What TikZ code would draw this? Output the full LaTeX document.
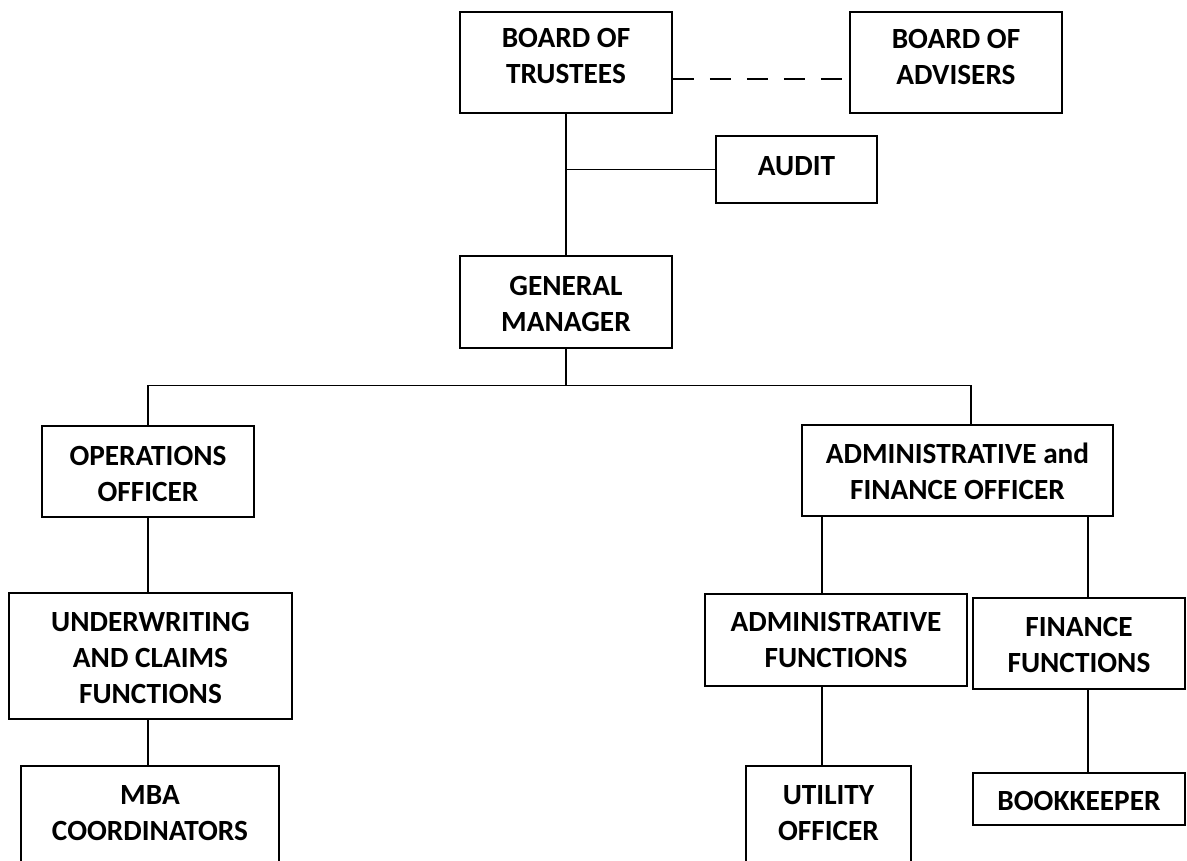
\documentclass[tikz,border=0pt]{standalone}
\usepackage{fontspec}
\setmainfont{Carlito}
\begin{document}
\begin{tikzpicture}[x=1pt,y=-1pt,
  box/.style={draw=black, line width=1.6pt, inner sep=0pt, fill=white},
  lbl/.style={align=center, inner sep=0pt, font=\fontsize{29.3}{36}\selectfont\bfseries},
  conn/.style={draw=black, line width=1.3pt},
  mainconn/.style={draw=black, line width=2.3pt},
  dashconn/.style={draw=black, line width=1.3pt, dash pattern=on 21pt off 16pt}
]
\useasboundingbox (0,0) rectangle (1187,861);
\clip (0,0) rectangle (1187,861);
\fill[white] (0,0) rectangle (1187,861);

\node[box, minimum width=212pt, minimum height=101pt,
  label={[lbl, yshift=6pt]center:BOARD OF\\TRUSTEES}] (bot) at (566,62.5) {};
\node[box, minimum width=212pt, minimum height=101pt,
  label={[lbl, yshift=6pt]center:BOARD OF\\ADVISERS}] (boa) at (956,62.5) {};
\node[box, minimum width=161pt, minimum height=67pt,
  label={[lbl, yshift=3pt]center:AUDIT}] (aud) at (796.5,169.5) {};
\node[box, minimum width=212pt, minimum height=92pt,
  label={[lbl, yshift=-1.5pt]center:GENERAL\\MANAGER}] (gm) at (566,302) {};
\node[box, minimum width=212pt, minimum height=91pt,
  label={[lbl, yshift=-2pt]center:OPERATIONS\\OFFICER}] (ops) at (148,471.5) {};
\node[box, minimum width=311pt, minimum height=91pt,
  label={[lbl, yshift=-0.5pt]center:ADMINISTRATIVE and\\FINANCE OFFICER}] (afo) at (957.5,470.5) {};
\node[box, minimum width=283pt, minimum height=126pt,
  label={[lbl, yshift=-2pt]center:UNDERWRITING\\AND CLAIMS\\FUNCTIONS}] (uw) at (150.5,656) {};
\node[box, minimum width=262pt, minimum height=92pt,
  label={[lbl, yshift=0pt]center:ADMINISTRATIVE\\FUNCTIONS}] (adf) at (836,640) {};
\node[box, minimum width=212pt, minimum height=91pt,
  label={[lbl, yshift=-1pt]center:FINANCE\\FUNCTIONS}] (fin) at (1079,643.5) {};
\node[box, minimum width=258pt, minimum height=134pt,
  label={[lbl, yshift=19.5pt]center:MBA\\COORDINATORS}] (mba) at (150,833) {};
\node[box, minimum width=165pt, minimum height=134pt,
  label={[lbl, yshift=19.5pt]center:UTILITY\\OFFICER}] (uti) at (828.5,833) {};
\node[box, minimum width=212pt, minimum height=52pt,
  label={[lbl, yshift=-2pt]center:BOOKKEEPER}] (bk) at (1079,799) {};

\coordinate (busL) at (148,385.7);
\coordinate (busR) at (971,385.7);
\coordinate (xa) at (822,0);
\coordinate (xf) at (1088,0);
\coordinate (dy) at (0,79);

% top connectors
\draw[mainconn] (bot.south) -- (gm.north);
\draw[conn] (aud.west) -- (aud.west -| bot.south);
\draw[dashconn] (bot.east |- dy) -- (boa.west |- dy);

% general manager to officers
\draw[conn] (gm.south) -- (gm.south |- busL);
\draw[conn] (ops.north) -- (busL) -- (busR) -- (busR |- afo.north);

% operations branch
\draw[conn] (ops.south) -- (ops.south |- uw.north);
\draw[conn] (uw.south -| ops.south) -- (mba.north -| ops.south);

% admin & finance branch
\draw[conn] (afo.south -| xa) -- (adf.north -| xa);
\draw[conn] (afo.south -| xf) -- (fin.north -| xf);
\draw[conn] (adf.south -| xa) -- (uti.north -| xa);
\draw[conn] (fin.south -| xf) -- (bk.north -| xf);
\end{tikzpicture}
\end{document}
